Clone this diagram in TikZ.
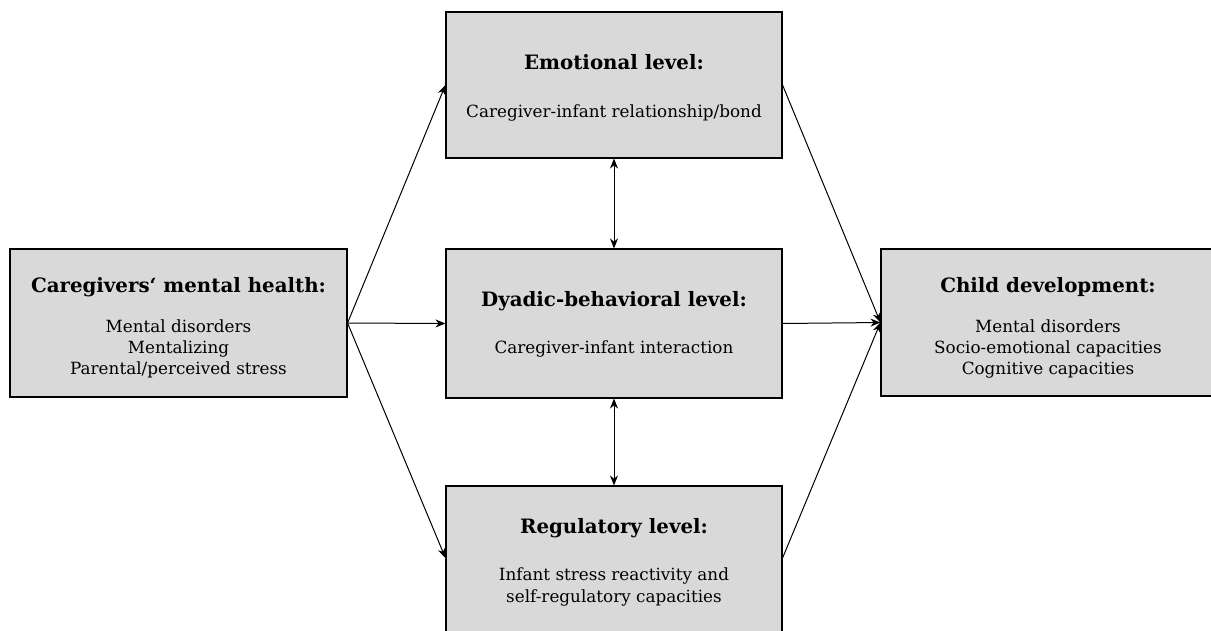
\documentclass[tikz,border=0pt]{standalone}
\usepackage{fontspec}
\setmainfont{DejaVu Serif}
\usetikzlibrary{arrows.meta}
\begin{document}
\begin{tikzpicture}[x=1pt,y=-1pt,
  panel/.style={draw=black,line width=1.1pt,fill=panelgray,inner sep=0pt},
  head/.style={font=\fontsize{19.8}{23}\selectfont\bfseries,anchor=base,inner sep=0pt},
  body/.style={font=\fontsize{16.8}{20}\selectfont,anchor=base,inner sep=0pt},
  tip/.style={Stealth[length=10pt,width=8pt]},
  link/.style={line width=1pt,-{Stealth[length=10pt,width=8pt]}},
  twoway/.style={line width=1pt,{Stealth[length=10pt,width=8pt]}-{Stealth[length=10pt,width=8pt]}}]
\definecolor{panelgray}{HTML}{D9D9D9}
\useasboundingbox (0,0) rectangle (1211,630);
% boxes
\node[panel,minimum width=337pt,minimum height=148pt] (care) at (178.5,323) {};
\node[panel,minimum width=336pt,minimum height=146pt] (emo) at (614,85) {};
\node[panel,minimum width=336pt,minimum height=149pt] (dyad) at (614,323.5) {};
\node[panel,minimum width=336pt,minimum height=160pt] (reg) at (614,566) {};
\node[panel,minimum width=334pt,minimum height=147pt] (child) at (1048,322.5) {};
% caregivers
\node[head] (careT) at (178.5,292) {Caregivers‘ mental health:};
\node[body] (care1) at (178.5,332) {Mental disorders};
\node[body] (care2) at (178.5,353) {Mentalizing};
\node[body] (care3) at (178.5,374) {Parental/perceived stress};
% emotional level
\node[head] (emoT) at (614,69) {Emotional level:};
\node[body] (emo1) at (614,117) {Caregiver-infant relationship/bond};
% dyadic level
\node[head] (dyadT) at (614,306) {Dyadic-behavioral level:};
\node[body] (dyad1) at (614,353) {Caregiver-infant interaction};
% regulatory level
\node[head] (regT) at (614,533) {Regulatory level:};
\node[body] (reg1) at (614,580) {Infant stress reactivity and};
\node[body] (reg2) at (614,602) {self-regulatory capacities};
% child
\node[head] (childT) at (1048,292) {Child development:};
\node[body] (child1) at (1048,332) {Mental disorders};
\node[body] (child2) at (1048,353) {Socio-emotional capacities};
\node[body] (child3) at (1048,374) {Cognitive capacities};
% connectors
\draw[link] (care.east) -- (emo.west);
\draw[link] (care.east) -- (dyad.west);
\draw[link] (care.east) -- (reg.west |- 0,558);
\draw[link] (emo.east) -- (child.west);
\draw[link] (dyad.east) -- (child.west);
\draw[link] (reg.east |- 0,558) -- (child.west);
\draw[twoway] (emo.south) -- (dyad.north);
\draw[twoway] (dyad.south) -- (reg.north);
\end{tikzpicture}
\end{document}
